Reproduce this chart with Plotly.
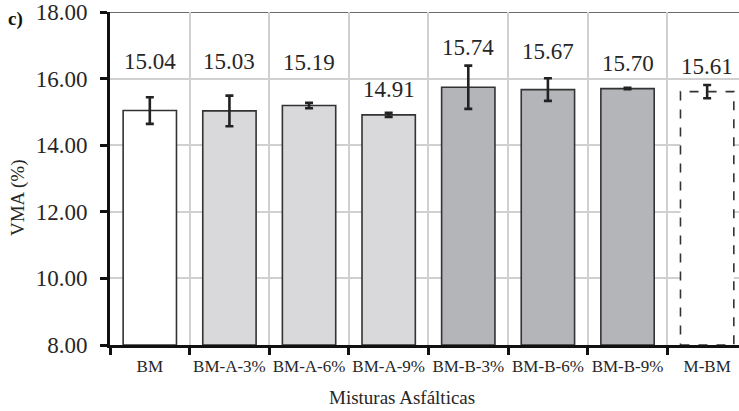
import plotly.graph_objects as go

# ---- data ----
categories = ["BM", "BM-A-3%", "BM-A-6%", "BM-A-9%", "BM-B-3%", "BM-B-6%", "BM-B-9%", "M-BM"]
vma_values = [15.04, 15.03, 15.19, 14.91, 15.74, 15.67, 15.70, 15.61]
vma_errors = [0.40, 0.46, 0.08, 0.06, 0.65, 0.34, 0.02, 0.20]
value_labels = ["15.04", "15.03", "15.19", "14.91", "15.74", "15.67", "15.70", "15.61"]
y_ticks = [8, 10, 12, 14, 16, 18]

# ---- layout / style (not data) ----
label_heights = [16.50, 16.50, 16.47, 15.66, 16.92, 16.81, 16.46, 16.36]
bar_fills = ["#ffffff", "#d9d9db", "#d9d9db", "#d9d9db", "#b4b5b8", "#b4b5b8", "#b4b5b8", "#ffffff"]
bar_line_w = [1.6, 1.6, 1.6, 1.6, 1.6, 1.6, 1.6, 0]
BAR_W = 0.67
SERIF = "Liberation Serif"
TXT = "#262626"
PW, PH = 629, 333  # plot area size in px


def px_x(x):
    return (x - 110) / PW


def px_y(y):
    return (345 - y) / PH


fig = go.Figure()
fig.add_trace(go.Bar(
    x=categories, y=[v - 8 for v in vma_values], base=8,
    width=BAR_W,
    marker=dict(color=bar_fills, line=dict(color="#333333", width=bar_line_w)),
    error_y=dict(type="data", array=vma_errors, visible=True,
                 color="#222222", thickness=2.6, width=4),
    hoverinfo="skip",
))

# dashed outline for the M-BM bar, derived from the data
i_m = categories.index("M-BM")
fig.add_shape(type="rect", xref="x", yref="y",
              x0=i_m - BAR_W / 2, x1=i_m + BAR_W / 2, y0=8, y1=vma_values[i_m],
              line=dict(color="#333333", width=1.6, dash="dash"), layer="above")

for i, (c, t) in enumerate(zip(categories, value_labels)):
    fig.add_annotation(x=c, y=label_heights[i], text=t, showarrow=False,
                       xref="x", yref="y", font=dict(family=SERIF, size=23, color=TXT))

# top border line
fig.add_shape(type="line", xref="paper", yref="y", x0=0, x1=1, y0=18, y1=18,
              line=dict(color="#3a3a3a", width=1.5), layer="below")

fig.add_annotation(xref="paper", yref="paper", x=px_x(18), y=px_y(198),
                   text="VMA (%)", textangle=-90, showarrow=False,
                   xanchor="center", yanchor="middle",
                   font=dict(family=SERIF, size=19, color=TXT))
fig.add_annotation(xref="paper", yref="paper", x=px_x(402), y=px_y(397),
                   text="Misturas Asfálticas", showarrow=False,
                   xanchor="center", yanchor="middle",
                   font=dict(family=SERIF, size=19, color=TXT))
fig.add_annotation(xref="paper", yref="paper", x=px_x(6), y=px_y(19),
                   text="<b>c)</b>", showarrow=False,
                   xanchor="left", yanchor="middle",
                   font=dict(family=SERIF, size=19, color="#111111"))

fig.update_layout(
    width=739, height=411,
    margin=dict(l=110, r=0, t=12, b=66, autoexpand=False),
    plot_bgcolor="white", paper_bgcolor="white",
    showlegend=False,
    xaxis=dict(
        type="category", range=[-0.5, 7.40],
        tickson="boundaries", ticks="outside", ticklen=7, tickwidth=2.5, tickcolor="#111111",
        showgrid=True, gridcolor="#d0d0d0", gridwidth=1.5,
        showline=True, linecolor="#111111", linewidth=3,
        tickfont=dict(family=SERIF, size=17, color=TXT),
        tickangle=0, ticklabelstandoff=4, automargin=False,
        zeroline=False,
    ),
    yaxis=dict(
        range=[8, 18], tickvals=y_ticks, tickformat=".2f",
        ticks="outside", ticklen=7, tickwidth=2.5, tickcolor="#111111",
        showgrid=True, gridcolor="#d0d0d0", gridwidth=1.5,
        showline=True, linecolor="#111111", linewidth=3,
        tickfont=dict(family=SERIF, size=23, color=TXT),
        ticklabelstandoff=8, automargin=False, ticklabeloverflow="allow",
        zeroline=False,
    ),
)

fig.write_html("out.html",
               config={"displayModeBar": False},
               post_script="document.body.style.margin='0';document.body.style.overflow='hidden';")
